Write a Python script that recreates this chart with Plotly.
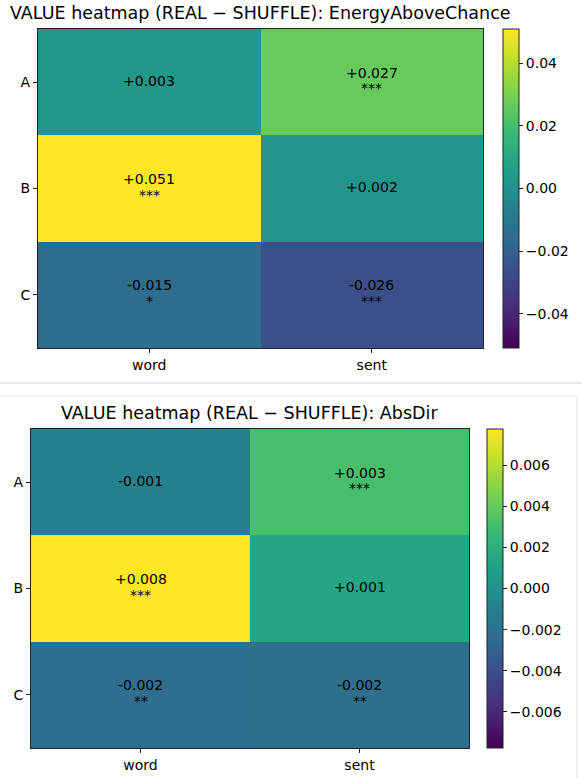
import plotly.graph_objects as go

W, H = 582, 778

cols = ["word", "sent"]
rows = ["A", "B", "C"]

title_top = "VALUE heatmap (REAL − SHUFFLE): EnergyAboveChance"
vals_top = [[0.003, 0.027], [0.051, 0.002], [-0.015, -0.026]]
stars_top = [["", "***"], ["***", ""], ["*", "***"]]
vmax_top = 0.051
ticks_top = [-0.04, -0.02, 0.0, 0.02, 0.04]

title_bot = "VALUE heatmap (REAL − SHUFFLE): AbsDir"
vals_bot = [[-0.0009, 0.0032], [0.00775, 0.0014], [-0.0022, -0.0021]]
stars_bot = [["", "***"], ["***", ""], ["**", "**"]]
vmax_bot = 0.00775
ticks_bot = [-0.006, -0.004, -0.002, 0.0, 0.002, 0.004, 0.006]

FONT = "DejaVu Sans"


def px_x(p):
    return p / W


def px_y(p):
    return 1 - p / H


fig = go.Figure()

panels = [
    dict(vals=vals_top, stars=stars_top, vmax=vmax_top, ticks=ticks_top, fmt=".2f",
         title=title_top, box=(38, 483, 29, 348), cb=503, xa="x", ya="y"),
    dict(vals=vals_bot, stars=stars_bot, vmax=vmax_bot, ticks=ticks_bot, fmt=".3f",
         title=title_bot, box=(31, 469, 429, 748), cb=487, xa="x2", ya="y2"),
]

annotations = []
for i, p in enumerate(panels):
    x0, x1, y0, y1 = p["box"]
    fig.add_trace(go.Heatmap(
        z=p["vals"], x=cols, y=rows,
        colorscale="Viridis", zmin=-p["vmax"], zmax=p["vmax"],
        xaxis=p["xa"], yaxis=p["ya"], hoverinfo="skip",
        colorbar=dict(
            x=px_x(p["cb"]), xanchor="left", xref="paper",
            y=px_y((y0 + y1) / 2), yanchor="middle",
            len=(y1 - y0) / H, lenmode="fraction",
            thickness=16, thicknessmode="pixels",
            outlinewidth=1, outlinecolor="#222",
            tickvals=p["ticks"], tickformat=p["fmt"],
            ticks="outside", ticklen=4, tickcolor="#222",
            tickfont=dict(family=FONT, size=14, color="black"),
            xpad=0, ypad=0,
        ),
    ))
    sfx = "" if i == 0 else "2"
    fig.update_layout(**{
        f"xaxis{sfx}": dict(
            domain=[px_x(x0), px_x(x1)], anchor=p["ya"],
            showline=True, mirror=True, linecolor="#222", linewidth=1,
            ticks="outside", ticklen=4, tickcolor="#222",
            tickfont=dict(family=FONT, size=14, color="black"),
            showgrid=False, zeroline=False, fixedrange=True,
        ),
        f"yaxis{sfx}": dict(
            domain=[px_y(y1), px_y(y0)], anchor=p["xa"],
            autorange="reversed",
            showline=True, mirror=True, linecolor="#222", linewidth=1,
            ticks="outside", ticklen=4, tickcolor="#222",
            tickfont=dict(family=FONT, size=14, color="black"),
            showgrid=False, zeroline=False, fixedrange=True,
        ),
    })
    # cell labels: value line and significance stars
    for r, (vr, sr) in enumerate(zip(p["vals"], p["stars"])):
        for c, (v, s) in enumerate(zip(vr, sr)):
            annotations.append(dict(
                text=f"{v:+.3f}", xref=p["xa"], yref=p["ya"], x=cols[c], y=rows[r],
                showarrow=False, yshift=(9.5 if s else 1.5),
                font=dict(family=FONT, size=14, color="black"),
            ))
            if s:
                annotations.append(dict(
                    text=s, xref=p["xa"], yref=p["ya"], x=cols[c], y=rows[r],
                    showarrow=False, yshift=-6,
                    font=dict(family=FONT, size=14, color="black"),
                ))
    annotations.append(dict(
        text=p["title"], xref="paper", yref="paper",
        x=px_x((x0 + x1) / 2), y=px_y(y0 - 4), xanchor="center", yanchor="bottom",
        showarrow=False, font=dict(family=FONT, size=17.5, color="black"),
    ))

shapes = [
    dict(type="line", xref="paper", yref="paper", x0=0, x1=1,
         y0=px_y(383), y1=px_y(383), line=dict(color="#d6d6d6", width=1)),
    dict(type="line", xref="paper", yref="paper", x0=0, x1=px_x(577),
         y0=px_y(396), y1=px_y(396), line=dict(color="#e2e2e2", width=1)),
    dict(type="line", xref="paper", yref="paper", x0=px_x(577), x1=px_x(577),
         y0=px_y(396), y1=0, line=dict(color="#e2e2e2", width=1)),
]

fig.update_layout(
    width=W, height=H, margin=dict(l=0, r=0, t=0, b=0),
    paper_bgcolor="white", plot_bgcolor="white",
    font=dict(family=FONT, color="black"),
    annotations=annotations, shapes=shapes,
)

fig.write_html("out.html")
